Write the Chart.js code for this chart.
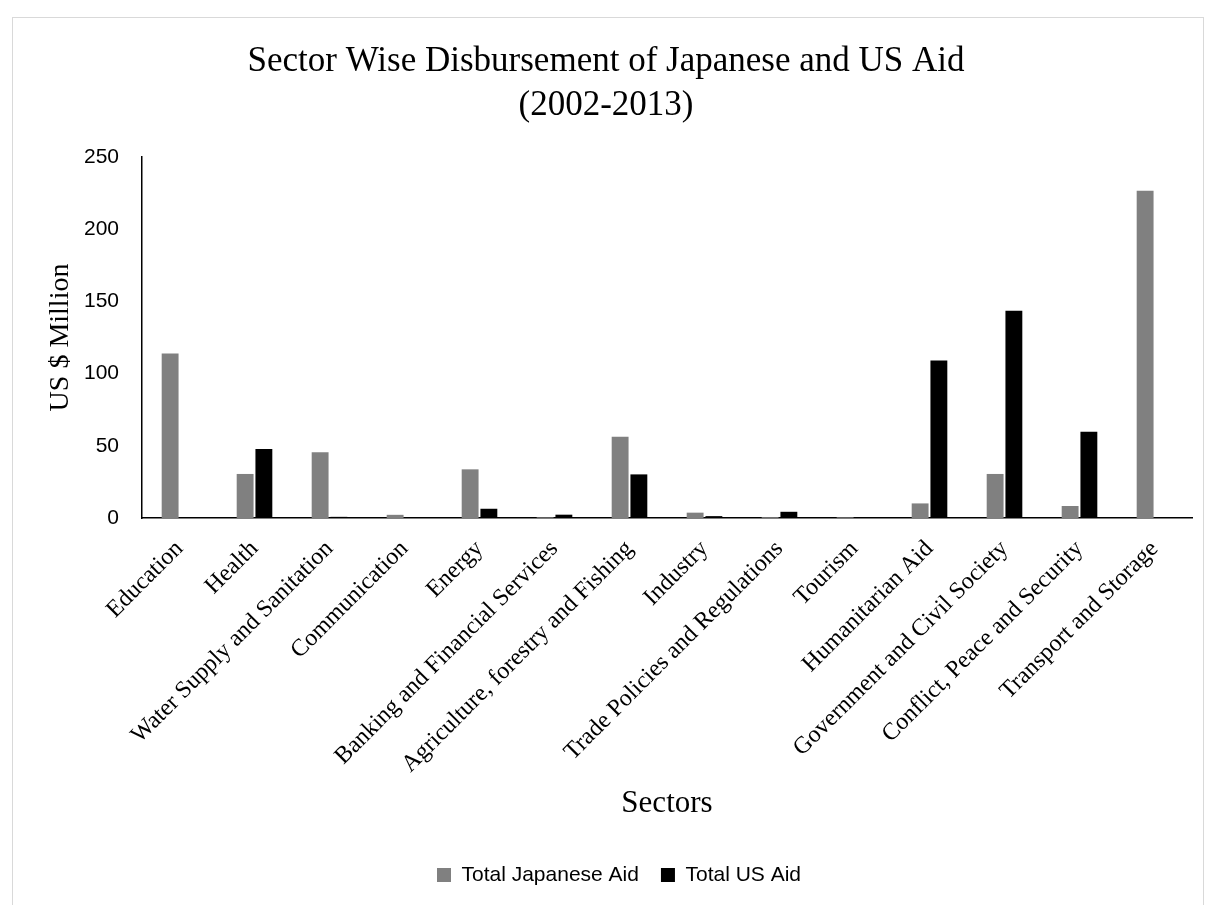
<!DOCTYPE html>
<html>
<head>
<meta charset="utf-8">
<script src="https://cdn.jsdelivr.net/npm/chart.js@4.4.1/dist/chart.umd.min.js"></script>
<style>
  html, body { margin: 0; padding: 0; background: #ffffff; }
  #wrap { position: relative; width: 1213px; height: 905px; overflow: hidden; background: #ffffff; }
  #frame { position: absolute; left: 12px; top: 17px; width: 1192px; height: 900px; border: 1px solid #d9d9d9; box-sizing: border-box; }
  #c { position: absolute; left: 0; top: 0; }
</style>
</head>
<body>
<div id="wrap">
  <div id="frame"></div>
  <canvas id="c" width="1213" height="905"></canvas>
</div>
<script>
// Sectors on the category axis
const sectors = [
  'Education',
  'Health',
  'Water Supply and Sanitation',
  'Communication',
  'Energy',
  'Banking and Financial Services',
  'Agriculture, forestry and Fishing',
  'Industry',
  'Trade Policies and Regulations',
  'Tourism',
  'Humanitarian Aid',
  'Government and Civil Society',
  'Conflict, Peace and Security',
  'Transport and Storage'
];

// Disbursements, US $ million (2002-2013)
const japaneseAid = [114, 30.5, 45.5, 2.2, 33.7, 0.5, 56.3, 3.7, 0.6, 0.5, 10.1, 30.5, 8.3, 226.7];
const usAid       = [0, 47.8, 0.8, 0, 6.4, 2.3, 30.2, 1.3, 4.3, 0, 109, 143.6, 59.8, 0];

// Value axis
const yMin = 0;
const yMax = 250;
const yStep = 50;

const titleLines = ['Sector Wise Disbursement of Japanese and US Aid', '(2002-2013)'];
const xTitle = 'Sectors';
const yTitle = 'US $ Million';
const seriesNames = ['Total Japanese Aid', 'Total US Aid'];

const SERIF = "'Liberation Serif', 'Times New Roman', serif";
const SANS = "'Liberation Sans', Arial, sans-serif";

// nudges the centred legend row sideways
const legendShift = {
  id: 'legendShift',
  afterLayout(chart) {
    if (chart.legend) chart.legend.left += 26;
  }
};

new Chart(document.getElementById('c'), {
  type: 'bar',
  data: {
    labels: sectors,
    datasets: [
      {
        label: seriesNames[0],
        data: japaneseAid,
        backgroundColor: '#808080',
        borderWidth: 0,
        categoryPercentage: 0.5,
        barPercentage: 0.9
      },
      {
        label: seriesNames[1],
        data: usAid,
        backgroundColor: '#000000',
        borderWidth: 0,
        categoryPercentage: 0.5,
        barPercentage: 0.9
      }
    ]
  },
  options: {
    responsive: false,
    animation: false,
    devicePixelRatio: 1,
    layout: { padding: { left: 20, right: 21, top: 0, bottom: 9.5 } },
    plugins: {
      title: {
        display: true,
        text: titleLines,
        color: '#000000',
        font: { family: SERIF, size: 35, weight: 'normal', lineHeight: 1.257 },
        padding: { top: 39.5, bottom: 29.5 }
      },
      legend: {
        position: 'bottom',
        labels: {
          boxWidth: 14,
          boxHeight: 14,
          padding: 22,
          color: '#000000',
          font: { family: SANS, size: 21 }
        }
      },
      tooltip: { enabled: false }
    },
    scales: {
      x: {
        grid: { display: false },
        border: { display: true, color: '#000000', width: 1.5 },
        ticks: {
          autoSkip: false,
          minRotation: 45,
          maxRotation: 45,
          padding: 9,
          labelOffset: 0,
          color: '#000000',
          font: { family: SERIF, size: 24 }
        },
        title: {
          display: true,
          text: xTitle,
          color: '#000000',
          font: { family: SERIF, size: 31, weight: 'normal' },
          padding: { top: 0, bottom: 19.9 }
        },
        afterFit(scale) { scale.height = 324.5; }
      },
      y: {
        min: yMin,
        max: yMax,
        grid: { display: false, drawTicks: false },
        border: { display: true, color: '#000000', width: 1.5 },
        ticks: {
          stepSize: yStep,
          padding: 23,
          color: '#000000',
          font: { family: SANS, size: 21 }
        },
        title: {
          display: true,
          text: yTitle,
          color: '#000000',
          font: { family: SERIF, size: 28, weight: 'normal' },
          padding: { top: 24.2, bottom: 0 }
        },
        afterFit(scale) { scale.width = 122; }
      }
    }
  },
  plugins: [legendShift]
});
</script>
</body>
</html>
